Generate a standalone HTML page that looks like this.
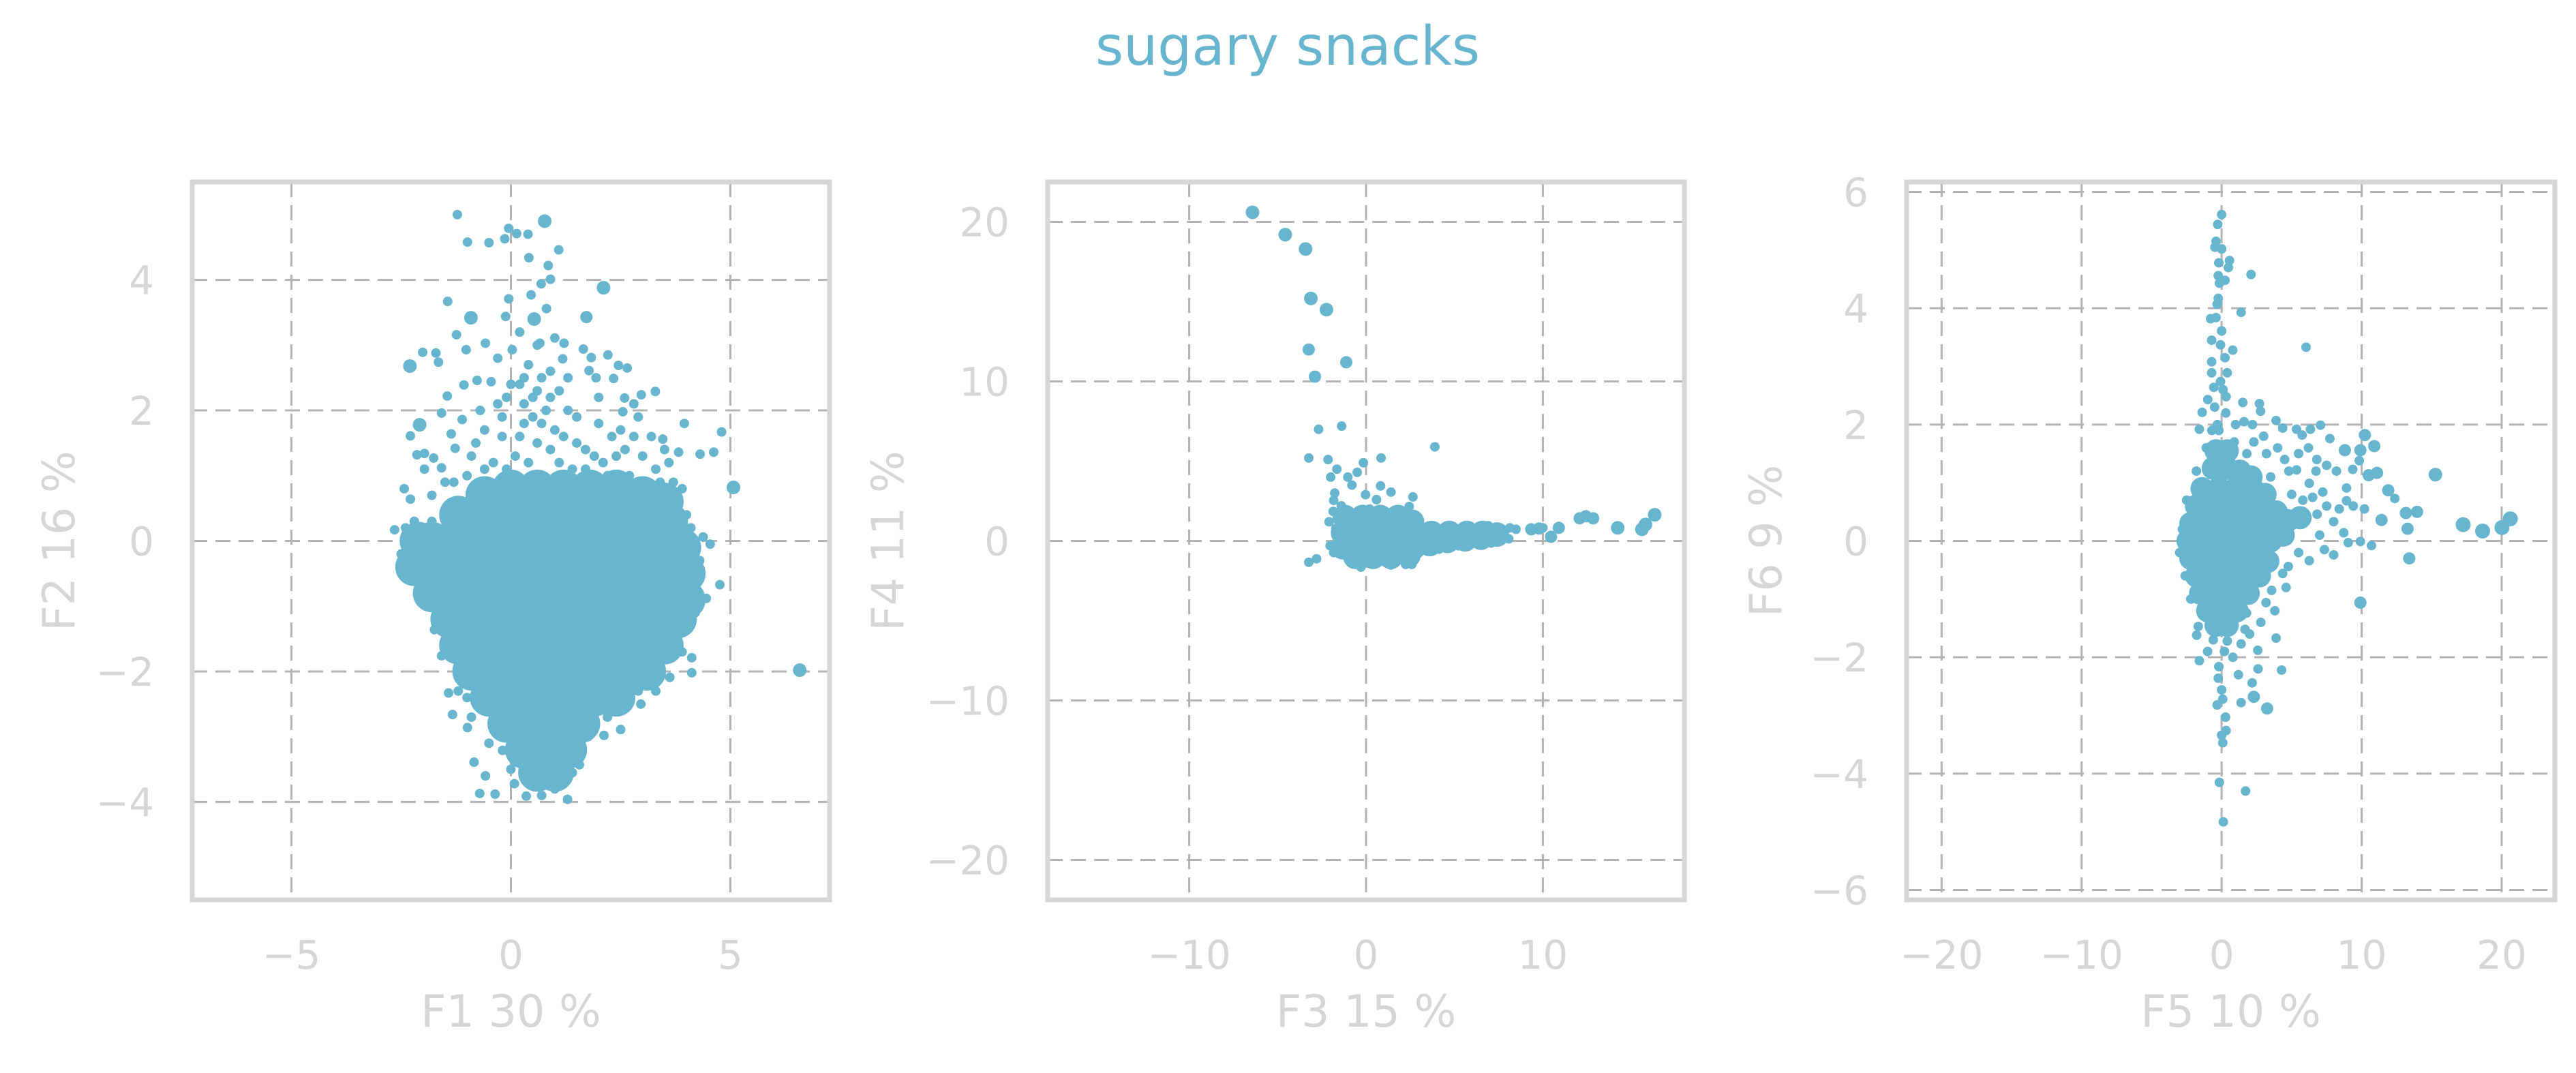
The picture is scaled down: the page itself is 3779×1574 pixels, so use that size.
<!DOCTYPE html>
<html><head><meta charset="utf-8">
<style>
html,body{margin:0;padding:0;background:#fff;}
svg{display:block;}
text{font-family:"DejaVu Sans","Liberation Sans",sans-serif;}
</style></head>
<body>
<svg id="fig" width="3779" height="1574" viewBox="0 0 3779 1574" xmlns="http://www.w3.org/2000/svg">
<rect width="3779" height="1574" fill="#fff"/>
<text x="1889" y="95" text-anchor="middle" font-size="79" fill="#67b5cf">sugary snacks</text>
</svg>
<script>
// ---- Panel 1 data (F1 vs F2) ----
const p1Sparse = [[-1.22,5.0],[0.77,4.9,10],[-0.99,4.58],[-0.5,4.57],[-0.05,4.79],[0.13,4.71],[0.39,4.7],[-0.14,4.63],[1.09,4.46],[0.41,4.34],[0.85,4.22],[0.9,4.01],[2.11,3.88,10],[0.69,3.94],[0.46,3.77],[-0.05,3.71],[0.81,3.56],[-1.44,3.67],[-0.91,3.42,10],[-0.12,3.44],[0.53,3.4,10],[1.72,3.43,9],[-1.24,3.16],[1.0,3.11],[1.21,3.03],[1.18,2.79],[-2.01,2.89],[-1.71,2.88],[-1.65,2.74],[-2.3,2.68,10],[-1.02,2.93],[-0.58,3.03],[0.03,2.93],[0.66,3.03],[1.65,2.94],[2.21,2.85],[1.83,2.81],[2.65,2.65],[2.45,2.69],[1.78,2.61],[2.34,2.49],[1.94,2.5],[-1.07,2.39],[-0.77,2.46],[-0.45,2.44],[-1.45,2.22],[-1.58,1.96],[2.97,2.24],[3.29,2.29],[2.59,2.19],[2.55,1.98],[-2.08,1.78,10],[-2.29,1.61],[3.95,1.8],[4.8,1.67],[4.62,1.36],[4.31,1.33],[5.07,0.82,10],[6.58,-1.98,10],[3.82,1.36],[3.46,1.56],[-1.97,1.34],[-1.76,1.27],[-1.97,1.1],[-2.14,1.32],[-2.43,0.8],[-2.29,0.64],[-2.65,0.17],[-1.58,1.12],[-1.36,1.64],[-1.27,1.42],[-1.11,1.86],[4.38,0.06],[4.54,-0.05],[4.76,-0.67],[4.45,-0.88],[4.12,-1.79],[4.12,-2.02],[3.62,-2.09],[2.96,-2.5],[2.5,-2.89],[2.12,-2.98],[1.56,-3.43],[1.29,-3.96],[-0.36,-3.88],[-0.71,-3.87],[-0.84,-3.39],[-0.19,-3.21],[-0.58,-3.6],[0.08,-3.72],[0.35,-3.91],[-1.33,-2.66],[-1.42,-2.33],[-1.58,-1.76],[-1.74,-1.36],[-0.99,-2.86],[1.76,-3.0],[1.4,-3.55],[0.2,2.4],[0.5,2.2],[0.8,2.0],[0.3,1.8],[0.6,1.5],[1.0,1.7],[1.3,2.0],[1.5,1.5],[1.9,1.3],[2.3,1.6],[2.6,1.4],[2.9,1.9],[3.2,1.6],[3.3,1.1],[2.0,1.8],[-0.3,2.1],[-0.6,1.7],[-0.9,1.3],[-0.4,1.2],[0.1,1.3],[0.9,2.6],[0.4,2.7],[0.6,3.0],[1.4,1.1],[2.8,2.1],[3.6,1.2],[-0.7,2.0],[-0.2,1.6],[0.0,2.4],[0.7,2.5],[-1.3,0.9],[-1.8,0.7],[-2.2,0.3],[3.9,0.8],[4.0,0.4],[1.0,-3.8],[0.7,-3.9],[-1.2,-2.0],[-1.0,-2.4],[3.9,-1.7],[3.3,-2.3],
[0.3,2.1],[0.5,1.9],[0.2,1.6],[0.9,1.4],[1.1,1.2],[0.4,1.2],[0.7,1.8],[1.2,1.6],[1.7,1.4],[2.1,1.2],[2.4,1.3],[2.7,1.0],[3.0,1.3],[3.1,0.9],[3.4,0.9],[1.7,1.1],[2.2,1.0],[-0.1,1.1],[-0.6,1.1],[-1.0,1.0],[-1.5,0.9],[-0.2,1.9],[0.6,2.3],[0.9,2.2],[1.1,2.3],[0.3,2.5],[-0.1,2.2],[2.5,1.7],[2.8,1.6],[3.5,1.4],[3.7,0.9],[0.1,1.0],[1.5,1.9],[-0.8,1.5],[0.2,3.2],[-0.3,2.8],[2.0,2.2],[1.3,2.5],[-1.8,0.3],[-2.4,0.2],[-2.5,-0.2],[-2.2,-0.6],[-1.9,-1.0],[-1.6,-1.3],[-1.4,-1.7],[-1.2,-2.3],[-0.9,-2.7],[-0.5,-3.1],[0.0,-3.5],[1.6,-3.2],[2.2,-2.7],[2.9,-2.3],[3.4,-2.0],[3.9,-1.4],[4.2,-1.1],[4.3,-0.3],[4.1,0.2],[3.8,0.6]];
const p1Core = [[-0.6,0.7],[0.0,0.8],[0.6,0.8],[1.2,0.8],[1.8,0.8],[2.4,0.8],[3.0,0.7],[3.5,0.6],
[-1.2,0.4],[-0.6,0.4],[0.0,0.4],[0.6,0.4],[1.2,0.4],[1.8,0.4],[2.4,0.4],[3.0,0.4],[3.6,0.3],
[-2.1,0.0],[-1.8,0.0],[-1.2,0.0],[-0.6,0.0],[0.0,0.0],[0.6,0.0],[1.2,0.0],[1.8,0.0],[2.4,0.0],[3.0,0.0],[3.6,0.0],[3.9,-0.1],
[-2.2,-0.4],[-1.8,-0.4],[-1.2,-0.4],[-0.6,-0.4],[0.0,-0.4],[0.6,-0.4],[1.2,-0.4],[1.8,-0.4],[2.4,-0.4],[3.0,-0.4],[3.6,-0.4],[4.0,-0.5],
[-1.8,-0.8],[-1.2,-0.8],[-0.6,-0.8],[0.0,-0.8],[0.6,-0.8],[1.2,-0.8],[1.8,-0.8],[2.4,-0.8],[3.0,-0.8],[3.6,-0.8],[4.0,-0.9],
[-1.4,-1.2],[-0.8,-1.2],[-0.2,-1.2],[0.4,-1.2],[1.0,-1.2],[1.6,-1.2],[2.2,-1.2],[2.8,-1.2],[3.4,-1.2],[3.8,-1.2],
[-1.2,-1.6],[-0.6,-1.6],[0.0,-1.6],[0.6,-1.6],[1.2,-1.6],[1.8,-1.6],[2.4,-1.6],[3.0,-1.6],[3.5,-1.6],
[-0.9,-2.0],[-0.3,-2.0],[0.3,-2.0],[0.9,-2.0],[1.5,-2.0],[2.1,-2.0],[2.7,-2.0],[3.1,-2.0],
[-0.5,-2.4],[0.1,-2.4],[0.7,-2.4],[1.3,-2.4],[1.9,-2.4],[2.4,-2.4],
[-0.1,-2.8],[0.5,-2.8],[1.1,-2.8],[1.6,-2.8],
[0.3,-3.2],[0.9,-3.2],[1.3,-3.2],
[0.6,-3.55],[1.0,-3.55]];
const p1XTicks = [-5,0,5];
const p1YTicks = [-4,-2,0,2,4];
const p1XTickLabels = ["\u22125","0","5"];
const p1YTickLabels = ["\u22124","\u22122","0","2","4"];

// ---- Panel 2 data (F3 vs F4) ----
const p2Sparse = [[-6.42,20.6,10],[-4.57,19.2,10],[-3.42,18.3,10],[-3.12,15.2,10],[-2.24,14.5,10],[-3.24,12.0,9],[-1.12,11.2,9],[-2.89,10.3,9],[-2.68,7.0],[-1.38,7.2],[-3.24,5.2],[3.89,5.9],[-2.15,5.1],[0.85,5.2],[-0.15,4.9],[-1.65,4.5],[-0.5,4.3],[-2.0,4.0],[-1.03,4.0],[0.82,3.45],[1.41,3.06],[2.65,2.76],[-0.03,2.9],[0.59,2.59],[-1.77,3.0],[-1.83,2.54],[-1.86,1.85],[-2.09,1.2],[-1.71,0.78],[2.44,2.16],[1.91,1.72],[1.33,1.77],[-3.24,-1.34],[-2.8,-1.12],[-2.03,-0.3],[-1.83,-0.73],[-0.29,-1.64],[1.41,-1.51],[2.24,-1.47],[2.59,-1.47],[4.12,-0.52],[5.21,-0.3],[6.33,0.86],[6.92,0.95],[7.51,0.73],[8.13,0.82],[8.48,0.73],[9.34,0.73,9],[9.78,0.78,9],[10.0,0.82],[10.46,0.26,9],[10.9,0.82,9],[12.08,1.42,9],[12.43,1.55,9],[12.84,1.42,9],[14.23,0.82,10],[15.6,0.73,10],[15.8,1.03,10],[16.32,1.64,10],[7.07,-0.13],[8.07,0.13],[5.89,0.09],[4.71,0.43],[3.53,0.3],[-0.8,3.5],[-1.4,2.2],[0.2,2.0],[0.6,1.9]];
const p2Core = [[-1.2,1.5],[-0.2,1.5],[0.8,1.5],[1.8,1.5],[2.6,1.2],
[-1.3,0.5],[-0.3,0.5],[0.7,0.5],[1.7,0.5],[2.7,0.5],[3.7,0.5],[4.7,0.5],[5.7,0.5],[6.6,0.5],[7.4,0.4],
[-1.3,-0.4],[-0.3,-0.4],[0.7,-0.4],[1.7,-0.4],[2.7,-0.4],[3.6,-0.2],[4.6,0.0],[5.6,0.1],[6.5,0.2],
[-0.6,-1.0],[0.4,-1.0],[1.4,-1.0],[2.4,-0.9]];
const p2XTicks = [-10,0,10];
const p2YTicks = [-20,-10,0,10,20];
const p2XTickLabels = ["\u221210","0","10"];
const p2YTickLabels = ["\u221220","\u221210","0","10","20"];

// ---- Panel 3 data (F5 vs F6) ----
const p3Sparse = [[0,5.61],[-0.28,5.44],[-0.4,5.15],[-0.48,5.05],[0,5.02],[-0.2,4.78],[0.56,4.82],[0.48,4.7],[2.1,4.58],[-0.24,4.56],[0.24,4.48],[-0.16,4.43],[-0.24,4.17],[-0.32,4.07],[1.39,3.93],[-0.79,3.82],[-0.4,3.84],[0,3.61],[-0.71,3.45],[-0.08,3.37],[0.79,3.28],[6.03,3.33],[0.24,3.15],[-0.71,3.08],[-0.71,2.89],[0.4,2.89],[-0.08,2.74],[-0.56,2.64],[0.32,2.48],[-0.99,2.43],[-1.39,2.21],[-1.59,1.92],[1.51,2.38],[2.7,2.36],[2.78,2.23],[3.89,2.07],[4.36,1.94],[5.35,1.92],[5.75,1.82],[6.34,1.92],[7.06,1.99],[7.73,1.76],[8.8,1.56,9],[10.23,1.82,9],[9.91,1.56,9],[10.9,1.63,9],[9.83,1.38],[9.36,1.23],[10.5,1.13,9],[11.1,1.17,9],[15.27,1.14,10],[11.9,0.87,9],[12.37,0.73],[13.96,0.5,9],[13.16,0.48,9],[11.42,0.36,9],[13.28,0.21,9],[17.25,0.28,11],[18.64,0.17,11],[20.02,0.23,11],[20.62,0.38,11],[13.4,-0.3,9],[9.91,-0.01],[10.7,-0.08],[9.04,-0.03],[8.72,0.14],[8.0,-0.24],[7.34,-0.15],[6.26,-0.34],[9.91,-1.06,9],[8.92,0.69],[8.92,0.91],[8.0,0.33],[7.22,0.84],[6.82,0.46],[6.26,0.99],[5.35,1.22],[6.74,1.2],[3.17,-1.06],[3.89,-1.67],[4.28,-2.22],[3.25,-2.88,9],[2.58,-1.88],[2.3,-2.68,9],[2.18,-2.44],[1.39,-2.78],[1.67,-1.52],[1.39,-1.77],[-0.2,-2.16],[-0.24,-2.36],[0,-2.56],[0.08,-2.72],[-0.32,-2.82],[0.28,-3.03],[0.32,-3.26],[0,-3.34],[0.08,-3.47],[-0.16,-4.15],[1.71,-4.3],[0.12,-4.83],[-1.59,-2.06],[-1.67,-1.47],[-1.78,-1.62],[1.78,-1.24],[0.4,-1.72],[4.36,-0.56],[4.76,-0.44],[3.57,-0.85],[-0.3,2.0],[0.3,2.2],[-0.5,2.3],[0.1,2.6],[1.0,2.0],[2.2,2.0],[3.0,1.8],[4.5,1.4],[3.5,1.1],[-2.5,0.7],[-2.8,0.2],[-3.0,-0.2],[-2.6,-0.6],[-2.2,-1.0],[-1.0,-1.9],[0.2,-1.9],
[1.6,2.05],[2.3,1.7],[3.2,1.5],[4.0,1.6],[4.8,1.2],[5.5,1.5],[6.2,1.6],[6.8,1.4],[7.5,1.3],[8.2,1.2],[5.0,0.8],[5.8,0.7],[6.5,0.75],[7.5,0.6],[8.4,0.55],[9.4,0.6],[10.2,0.55],[7.0,0.1],[5.5,-0.2],[4.6,-0.8],[3.8,-1.2],[2.8,-1.4],[2.0,-1.6],[-0.6,-1.7],[0.8,-2.0],[1.2,-2.3],[2.6,-2.2],[-0.7,1.9],[-1.1,1.6],[-1.8,1.2],[0.9,1.7],[1.8,1.5],[-0.2,1.9]];
const p3Core = [[-0.4,1.55],[0.4,1.55],[-0.6,1.25],[0.4,1.25],[1.3,1.2],[2.1,1.1],
[-1.4,0.9],[-0.2,0.9],[1.0,0.9],[2.2,0.9],[3.1,0.8],
[-1.8,0.6],[-0.6,0.6],[0.6,0.6],[1.8,0.6],[3.0,0.6],[3.9,0.5],
[-2.2,0.3],[-1.1,0.3],[0.1,0.3],[1.3,0.3],[2.5,0.3],[3.7,0.3],[4.7,0.35],[5.6,0.4],
[-2.4,0.0],[-1.3,0.0],[-0.1,0.0],[1.1,0.0],[2.3,0.0],[3.5,0.0],[4.4,0.1],
[-2.2,-0.3],[-1.1,-0.3],[0.1,-0.3],[1.3,-0.3],[2.5,-0.3],[3.3,-0.35],
[-1.8,-0.6],[-0.6,-0.6],[0.6,-0.6],[1.8,-0.6],[2.7,-0.6],
[-1.5,-0.9],[-0.3,-0.9],[0.9,-0.9],[1.9,-0.9],
[-1.0,-1.2],[0.2,-1.2],[1.1,-1.2],
[-0.4,-1.45],[0.4,-1.45]];
const p3XTicks = [-20,-10,0,10,20];
const p3YTicks = [-6,-4,-2,0,2,4,6];
const p3XTickLabels = ["\u221220","\u221210","0","10","20"];
const p3YTickLabels = ["\u22126","\u22124","\u22122","0","2","4","6"];

const panels = [
  {id:'f1-f2', L:282, R:1217, T:267, B:1320, xd:[-7.26,7.26], yd:[-5.5,5.5], sparse:p1Sparse, core:p1Core, coreR:28,
   xt:p1XTicks, yt:p1YTicks, xtl:p1XTickLabels, ytl:p1YTickLabels, xlab:'F1 30 %', ylab:'F2 16 %', ylabX:85},
  {id:'f3-f4', L:1537, R:2471, T:267, B:1320, xd:[-18,18], yd:[-22.5,22.5], sparse:p2Sparse, core:p2Core, coreR:18,
   xt:p2XTicks, yt:p2YTicks, xtl:p2XTickLabels, ytl:p2YTickLabels, xlab:'F3 15 %', ylab:'F4 11 %', ylabX:1301},
  {id:'f5-f6', L:2797, R:3748, T:267, B:1320, xd:[-22.5,23.8], yd:[-6.17,6.17], sparse:p3Sparse, core:p3Core, coreR:17,
   xt:p3XTicks, yt:p3YTicks, xtl:p3XTickLabels, ytl:p3YTickLabels, xlab:'F5 10 %', ylab:'F6 9 %', ylabX:2589}
];

const NS='http://www.w3.org/2000/svg';
const svg=document.getElementById('fig');
function mk(tag, attrs, parent){
  const e=document.createElementNS(NS,tag);
  for(const k in attrs) e.setAttribute(k, attrs[k]);
  parent.appendChild(e);
  return e;
}
const COLOR='#67b5cf', TXT='#d6d6d6', GRID='#b3b3b3', FRAME='#d6d6d6';

panels.forEach(p=>{
  const sx=v=>p.L+(v-p.xd[0])/(p.xd[1]-p.xd[0])*(p.R-p.L);
  const sy=v=>p.B-(v-p.yd[0])/(p.yd[1]-p.yd[0])*(p.B-p.T);
  const g=mk('g',{},svg);
  
  
  p.xt.forEach((t,i)=>{
    const l=mk('line',{x1:sx(t),x2:sx(t),y1:p.T,y2:p.B,stroke:GRID,'stroke-width':3,'stroke-dasharray':'22 12'},g);
    
    
    const tx=mk('text',{x:sx(t),y:1421,'text-anchor':'middle','font-size':58,fill:TXT},g);
    tx.textContent=p.xtl[i];
    
    
  });
  p.yt.forEach((t,i)=>{
    const l=mk('line',{x1:p.L,x2:p.R,y1:sy(t),y2:sy(t),stroke:GRID,'stroke-width':3,'stroke-dasharray':'22 12'},g);
    
    
    const tx=mk('text',{x:p.L-56,y:sy(t)+21,'text-anchor':'end','font-size':58,fill:TXT},g);
    tx.textContent=p.ytl[i];
    
    
  });
  p.core.forEach(d=>{
    const c=mk('circle',{cx:sx(d[0]),cy:sy(d[1]),r:p.coreR,fill:COLOR},g);
    
    
  });
  p.sparse.forEach(d=>{
    const c=mk('circle',{cx:sx(d[0]),cy:sy(d[1]),r:d[2]||7,fill:COLOR},g);
    
    
  });
  const fr=mk('rect',{x:p.L,y:p.T,width:p.R-p.L,height:p.B-p.T,fill:'none',stroke:FRAME,'stroke-width':7},g);
  
  
  const xl=mk('text',{x:(p.L+p.R)/2,y:1506,'text-anchor':'middle','font-size':65,fill:TXT},g);
  xl.textContent=p.xlab;
  
  
  const cy=(p.T+p.B)/2;
  const bx=p.ylabX+24;
  const yl=mk('text',{x:bx,y:cy,'text-anchor':'middle','font-size':65,fill:TXT,transform:`rotate(-90 ${bx} ${cy})`},g);
  yl.textContent=p.ylab;
  
  
});
</script>
</body></html>
